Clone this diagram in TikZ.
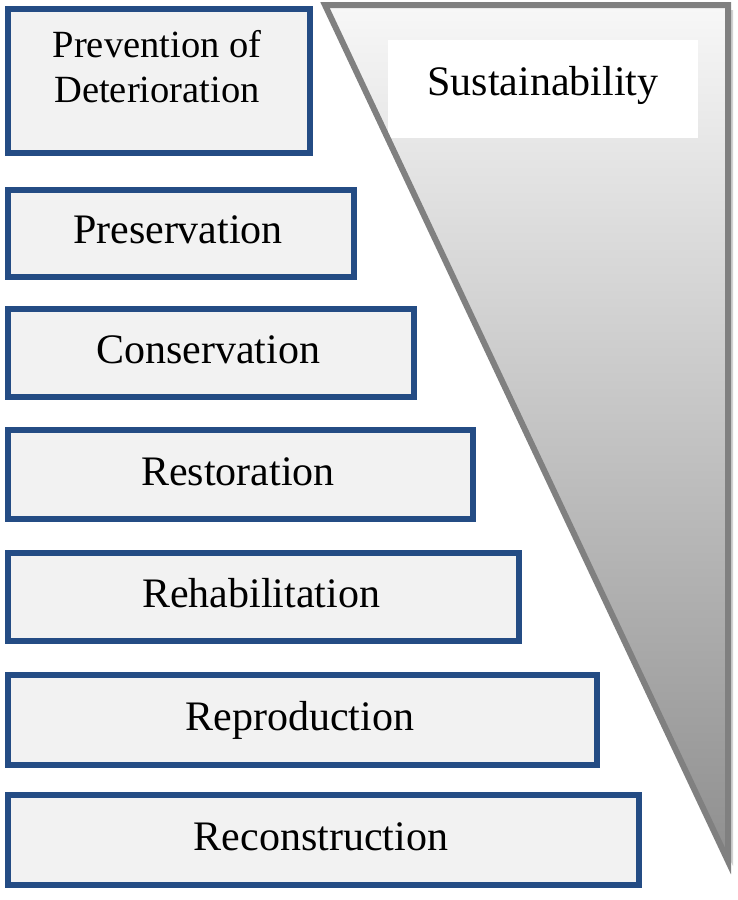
\documentclass[tikz,border=0pt]{standalone}
\usepackage{fontspec}
\setmainfont{Liberation Serif}
\definecolor{boxblue}{RGB}{36,76,132}
\definecolor{boxfill}{RGB}{242,242,242}
\definecolor{trigray}{RGB}{128,128,128}
\tikzset{
  stepbox/.style={draw=boxblue, fill=boxfill, line width=6pt, rectangle, anchor=north west, inner sep=0pt},
  lbl/.style={font=\fontsize{42}{48}\selectfont, anchor=base, inner sep=0pt},
}
\begin{document}
\begin{tikzpicture}[x=1pt,y=-1pt]
\useasboundingbox (0,0) rectangle (738,900);
% triangle shadow
\fill[black!18] (330,10) -- (733,10) -- (733,866) -- cycle;
% triangle fill
\path[top color=white!97!black, bottom color=black!44] (325,5) -- (728,5) -- (728,861) -- cycle;
\node[fill=white, minimum width=310, minimum height=98, anchor=north west, inner sep=0pt] (sbox) at (388,40) {};
% triangle border
\draw[trigray, line width=6pt] (325,5) -- (728,5) -- (728,861) -- cycle;
\node[lbl] (sus) at (543,95) {Sustainability};
% boxes
\node[stepbox, minimum width=302, minimum height=144] (b1) at (5,6) {};
\node[font=\fontsize{38.5}{45}\selectfont, align=center, inner sep=0pt] (t1) at (157,67) {Prevention of\\Deterioration};
\node[stepbox, minimum width=346, minimum height=87] (b2) at (5,187) {};
\node[lbl] (t2) at (178,243) {Preservation};
\node[stepbox, minimum width=406, minimum height=88] (b3) at (5,306) {};
\node[lbl] (t3) at (208,363) {Conservation};
\node[stepbox, minimum width=465, minimum height=89] (b4) at (5,427) {};
\node[lbl] (t4) at (238,485) {Restoration};
\node[stepbox, minimum width=511, minimum height=88] (b5) at (5,550) {};
\node[lbl] (t5) at (261,607) {Rehabilitation};
\node[stepbox, minimum width=589, minimum height=90] (b6) at (5,672) {};
\node[lbl] (t6) at (300,730) {Reproduction};
\node[stepbox, minimum width=631, minimum height=90] (b7) at (5,792) {};
\node[lbl] (t7) at (321,850) {Reconstruction};
\end{tikzpicture}
\end{document}
